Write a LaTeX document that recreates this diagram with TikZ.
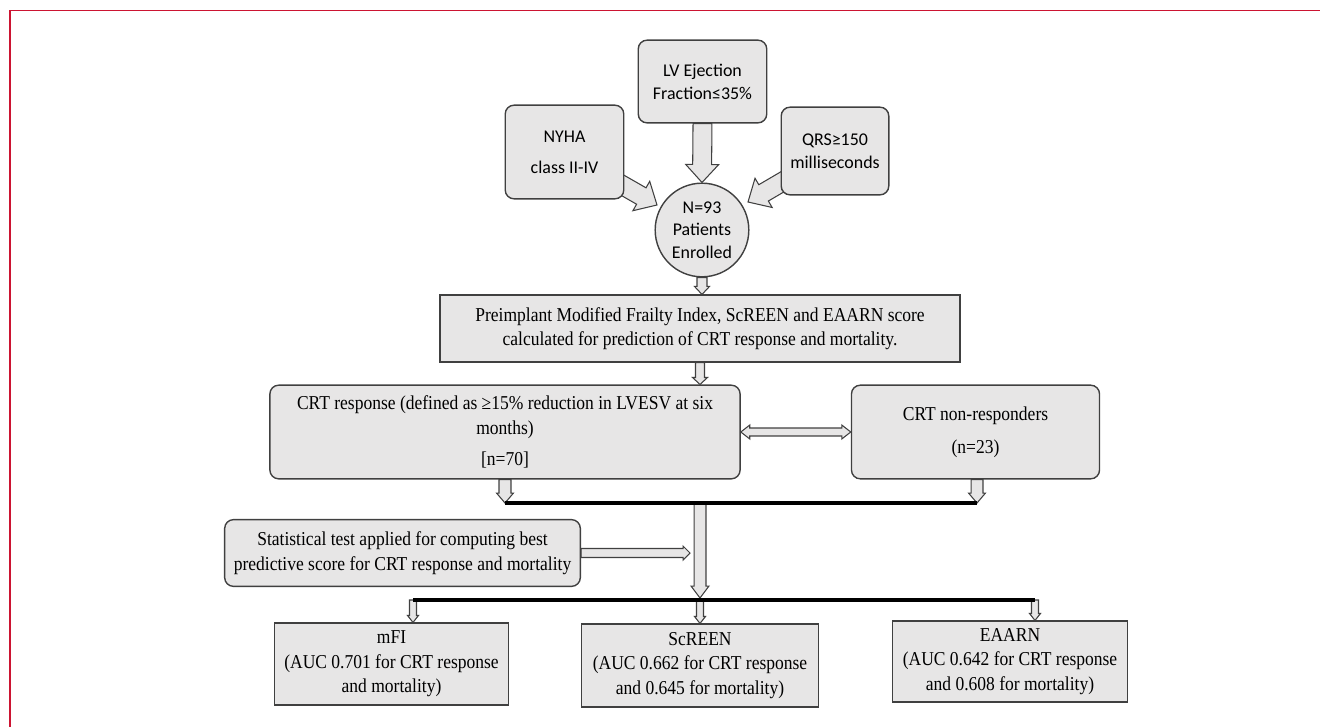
\documentclass[tikz,border=0pt]{standalone}
\usepackage{fontspec}
\setmainfont[FakeStretch=0.89]{Liberation Serif}
\newfontfamily\carlito{Carlito}
\usetikzlibrary{calc,backgrounds}

\definecolor{boxgray}{RGB}{231,230,230}
\definecolor{edgegray}{RGB}{64,64,64}
\definecolor{framered}{RGB}{204,20,50}

% block arrow: [opts]{from}{to}{half shaft}{half head}{head length}, sizes in px
\newcommand{\blkarrow}[6][]{%
  \draw[arrowfill,#1] let \p1=#2, \p2=#3,
      \n1={atan2(\y2-\y1,\x2-\x1)}, \n2={veclen(\x2-\x1,\y2-\y1)},
      \n3={#4*0.567pt}, \n4={#5*0.567pt}, \n5={\n2-#6*0.567pt} in
    ($(\p1)+(\n1+90:\n3)$) -- ($(\p1)+(\n1:\n5)+(\n1+90:\n3)$)
    -- ($(\p1)+(\n1:\n5)+(\n1+90:\n4)$) -- (\p2)
    -- ($(\p1)+(\n1:\n5)+(\n1-90:\n4)$) -- ($(\p1)+(\n1:\n5)+(\n1-90:\n3)$)
    -- ($(\p1)+(\n1-90:\n3)$) -- cycle;}
% double block arrow, same arguments
\newcommand{\dblarrow}[6][]{%
  \draw[arrowfill,#1] let \p1=#2, \p2=#3,
      \n1={atan2(\y2-\y1,\x2-\x1)}, \n2={veclen(\x2-\x1,\y2-\y1)},
      \n3={#4*0.567pt}, \n4={#5*0.567pt}, \n5={\n2-#6*0.567pt}, \n6={#6*0.567pt} in
    (\p1) -- ($(\p1)+(\n1:\n6)+(\n1+90:\n4)$) -- ($(\p1)+(\n1:\n6)+(\n1+90:\n3)$)
    -- ($(\p1)+(\n1:\n5)+(\n1+90:\n3)$) -- ($(\p1)+(\n1:\n5)+(\n1+90:\n4)$) -- (\p2)
    -- ($(\p1)+(\n1:\n5)+(\n1-90:\n4)$) -- ($(\p1)+(\n1:\n5)+(\n1-90:\n3)$)
    -- ($(\p1)+(\n1:\n6)+(\n1-90:\n3)$) -- ($(\p1)+(\n1:\n6)+(\n1-90:\n4)$) -- cycle;}

\begin{document}
\begin{tikzpicture}[x=0.02cm, y=-0.02cm,
  wh/.style 2 args={minimum width={#1*0.567pt}, minimum height={#2*0.567pt}},
  box/.style={draw=edgegray, fill=boxgray, line width=0.8pt, inner sep=0pt,
    align=center, font=\fontsize{11.2}{14}\selectfont},
  rbox/.style={box, rounded corners=5pt},
  sbox/.style={rbox, font=\carlito\fontsize{10.2}{13}\selectfont},
  arrowfill/.style={draw=edgegray, fill=boxgray, line width=0.6pt},
  junc/.style={line width=1.8pt}]
\useasboundingbox (0,0) rectangle (1320,727);
\draw[framered, line width=1.1pt] (10,727) -- (10,10.5) -- (1320,10.5);

% inclusion criteria
\node[sbox, wh={119}{94}] (nyha) at (564.5,152) {NYHA\\[4.5pt]class II-IV};
\node[sbox, wh={129}{83}] (lv) at (702.5,81.5) {LV Ejection\\Fraction≤35\%};
\node[sbox, wh={108}{88}] (qrs) at (835,151) {QRS≥150\\milliseconds};
\node[circle, draw=edgegray, fill=boxgray, line width=0.8pt, minimum size={94*0.567pt},
  inner sep=0pt, align=center, font=\carlito\fontsize{10.2}{12.8}\selectfont]
  (pat) at (702,230) {N=93\\Patients\\Enrolled};

% scores and groups
\node[box, wh={522}{67}] (pre) at (700,328.5)
  {Preimplant Modified Frailty Index, ScREEN and EAARN score\\calculated for prediction of CRT response and mortality.};
\node[rbox, wh={472}{94}] (crt) at (505,432)
  {CRT response (defined as ≥15\% reduction in LVESV at six\\months)\\[4pt]{[n=70]}};
\node[rbox, wh={249}{94}] (non) at (975.5,432) {CRT non-responders\\[5pt](n=23)};
\node[rbox, wh={357}{67}] (stat) at (402.5,553)
  {Statistical test applied for computing best\\predictive score for CRT response and mortality};

% results
\node[box, wh={235}{82}] (mfi) at (391.5,664) {mFI\\(AUC 0.701 for CRT response\\and mortality)};
\node[box, wh={238}{83}] (scr) at (700,665.5) {ScREEN\\(AUC 0.662 for CRT response\\and 0.645 for mortality)};
\node[box, wh={236}{81}] (eaa) at (1010,661.5) {EAARN\\(AUC 0.642 for CRT response\\and 0.608 for mortality)};

\coordinate (nyhatip) at (657,205);
\coordinate (qrstip) at (748,202);
\coordinate (jl) at (505,503);
\coordinate (jm) at (700,503);
\coordinate (jr) at (977,503);
\coordinate (kl) at (413,600);
\coordinate (km) at (700,600);
\coordinate (kr) at (1035,600);
\coordinate (stattip) at (690,553);

\begin{scope}[on background layer]
\blkarrow{(lv.south)}{(pat.north)}{9.5}{16.5}{18}
\blkarrow{(nyha.center)}{(nyhatip)}{9.5}{17}{18}
\blkarrow{(qrs.center)}{(qrstip)}{9.5}{17}{18}
\blkarrow{(pat.south)}{(pat.south |- pre.north)}{5}{7.5}{8}
\blkarrow{(pre.south)}{(pre.south |- crt.north)}{4.5}{7.5}{7}
\dblarrow{(crt.east)}{(non.west)}{4}{7}{9}
\blkarrow{(crt.south)}{(jl)}{6}{8.5}{10}
\blkarrow{(jr |- non.south)}{(jr)}{6}{8.5}{10}
\blkarrow{(jm)}{($(km)+(0,-2)$)}{6}{9}{12}
\blkarrow{(stat.east)}{(stattip)}{4.5}{7}{7}
\blkarrow{(kl)}{(kl |- mfi.north)}{3.5}{5.5}{7}
\blkarrow{(km)}{(km |- scr.north)}{3.5}{5.5}{7}
\blkarrow{(kr)}{(kr |- eaa.north)}{3.5}{5.5}{7}
\end{scope}

\draw[junc] (jl) -- (jr);
\draw[junc] (kl) -- (kr);
\end{tikzpicture}
\end{document}
